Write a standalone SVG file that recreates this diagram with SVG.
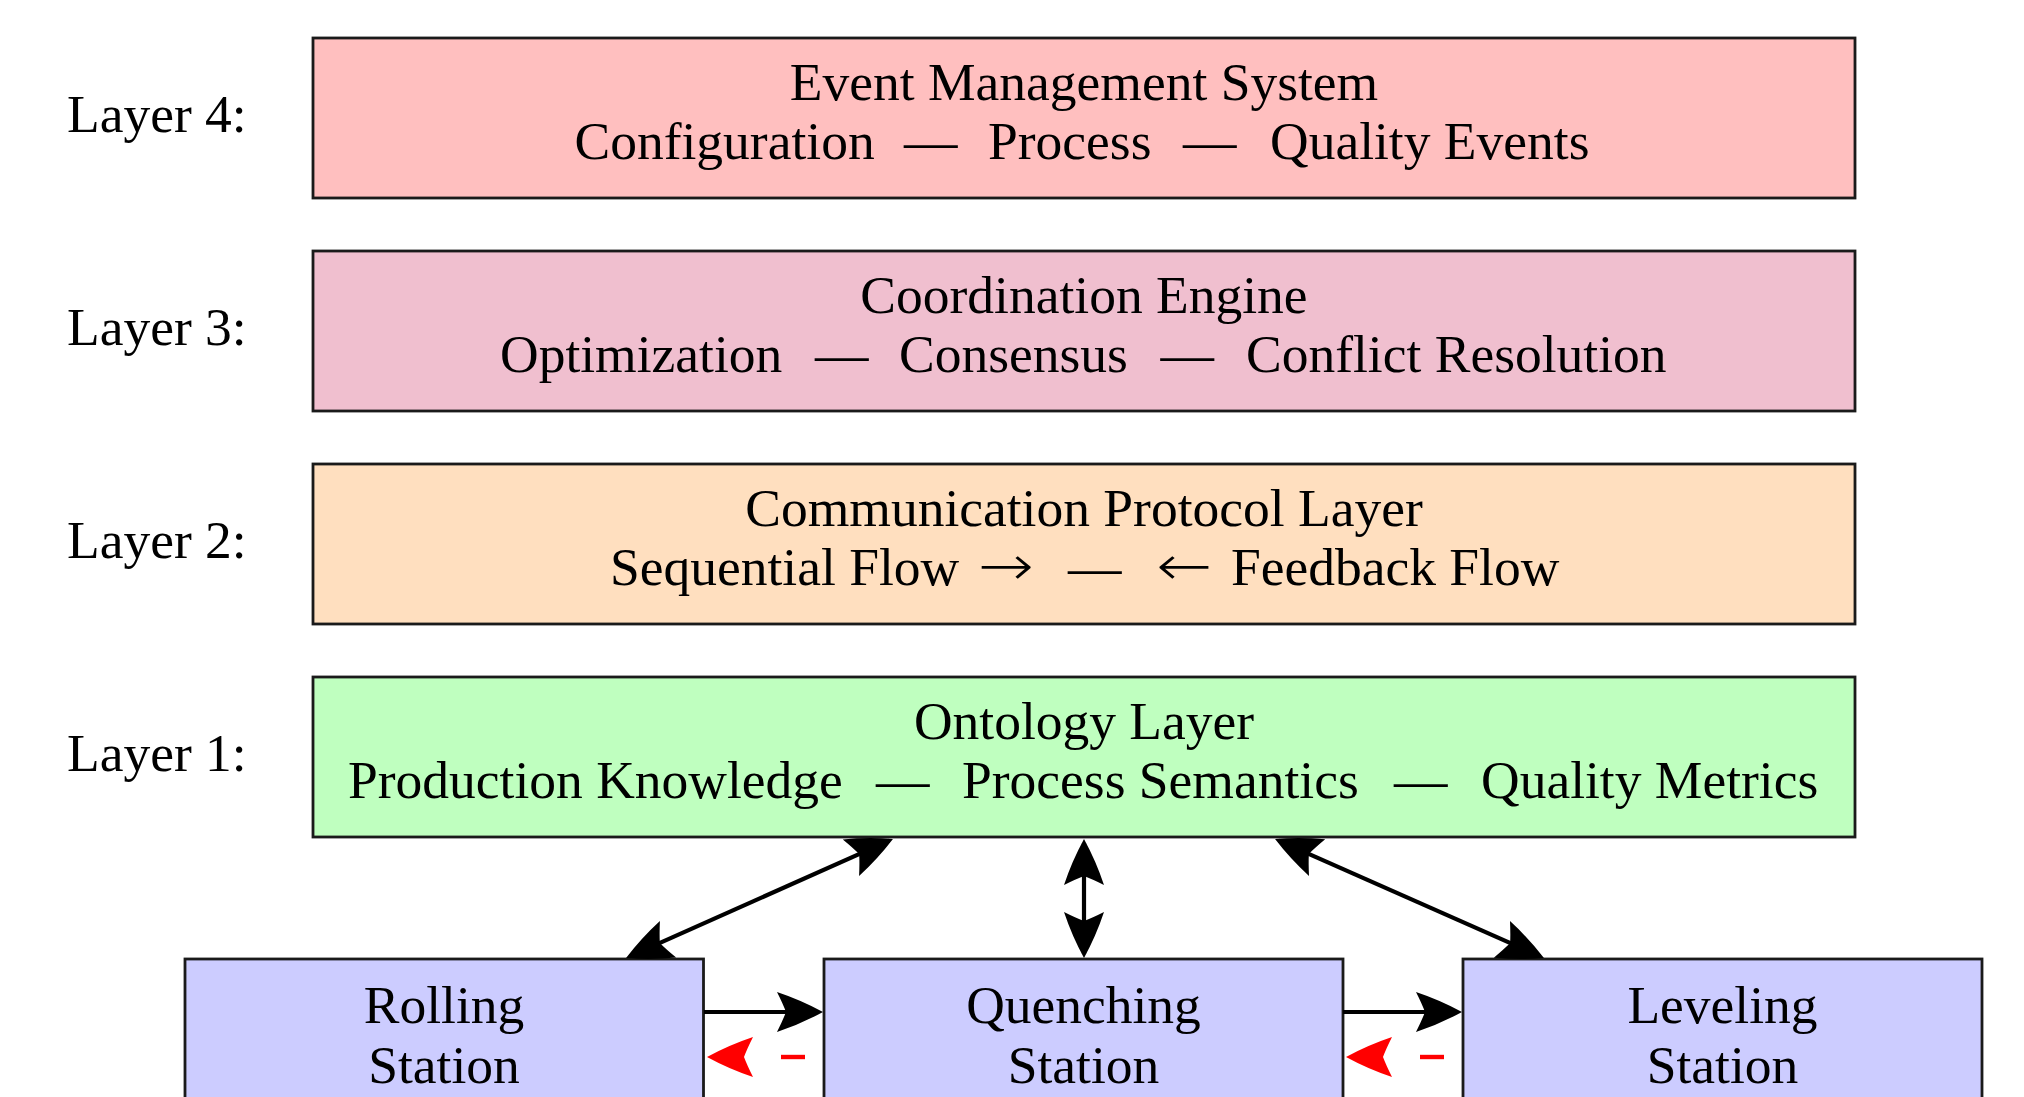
<svg xmlns="http://www.w3.org/2000/svg" width="2024" height="1097" viewBox="0 0 2024 1097">
  <style>
    .t { font-family: "Liberation Serif", "DejaVu Serif", serif; font-size: 53.5px; fill: #000; }
    .c { text-anchor: middle; }
    .ar { font-family: "DejaVu Sans", sans-serif; font-size: 56px; font-weight: 200; }
    .box { stroke: #1a1a1a; stroke-width: 2.8; }
    .l4 { fill: #FFBFBF; }
    .l3 { fill: #F0BFCF; }
    .l2 { fill: #FFDFBF; }
    .l1 { fill: #BFFFBF; }
    .st { fill: #CCCCFF; }
    .conn { stroke: #000; stroke-width: 4.2; fill: none; }
    .fb { stroke: #FF0000; stroke-width: 4.4; fill: none; stroke-dasharray: 24 200; }
  </style>
  <defs>
    <marker id="ah" viewBox="-52 -24 58 48" refX="-4" refY="0" markerWidth="58" markerHeight="48" markerUnits="userSpaceOnUse" orient="auto-start-reverse">
      <path d="M0,0 Q-22,-12 -46,-20 Q-40,-8 -37,0 Q-40,8 -46,20 Q-22,12 0,0 Z" fill="#000"/>
    </marker>
    <marker id="ahr" viewBox="-52 -24 58 48" refX="-4" refY="0" markerWidth="58" markerHeight="48" markerUnits="userSpaceOnUse" orient="auto-start-reverse">
      <path d="M0,0 Q-22,-12 -46,-20 Q-40,-8 -37,0 Q-40,8 -46,20 Q-22,12 0,0 Z" fill="#FF0000"/>
    </marker>
  </defs>
  <rect width="2024" height="1097" fill="#fff"/>

  <g id="layer4">
    <text class="t" x="67" y="132">Layer 4:</text>
    <rect class="box l4" x="313" y="38" width="1542" height="160"/>
    <text class="t c" x="1084" y="100">Event Management System</text>
    <text class="t" y="159"><tspan x="574.5">Configuration</tspan><tspan x="904">—</tspan><tspan x="988">Process</tspan><tspan x="1183">—</tspan><tspan x="1270">Quality Events</tspan></text>
  </g>

  <g id="layer3">
    <text class="t" x="67" y="345">Layer 3:</text>
    <rect class="box l3" x="313" y="251" width="1542" height="160"/>
    <text class="t c" x="1084" y="313">Coordination Engine</text>
    <text class="t" y="372"><tspan x="500">Optimization</tspan><tspan x="815">—</tspan><tspan x="899">Consensus</tspan><tspan x="1160.5">—</tspan><tspan x="1246">Conflict Resolution</tspan></text>
  </g>

  <g id="layer2">
    <text class="t" x="67" y="558">Layer 2:</text>
    <rect class="box l2" x="313" y="464" width="1542" height="160"/>
    <text class="t c" x="1084" y="526">Communication Protocol Layer</text>
    <text class="t" y="585"><tspan x="610">Sequential Flow</tspan><tspan class="ar" x="978" textLength="56" lengthAdjust="spacingAndGlyphs">→</tspan><tspan x="1068">—</tspan><tspan class="ar" x="1156" textLength="56" lengthAdjust="spacingAndGlyphs">←</tspan><tspan x="1231">Feedback Flow</tspan></text>
  </g>

  <g id="layer1">
    <text class="t" x="67" y="771">Layer 1:</text>
    <rect class="box l1" x="313" y="677" width="1542" height="160"/>
    <text class="t c" x="1084" y="739">Ontology Layer</text>
    <text class="t" y="798"><tspan x="348">Production Knowledge</tspan><tspan x="876">—</tspan><tspan x="962">Process Semantics</tspan><tspan x="1394">—</tspan><tspan x="1481">Quality Metrics</tspan></text>
  </g>

  <g id="rolling">
    <rect class="box st" x="185" y="959" width="518.5" height="170"/>
    <text class="t c" x="444" y="1022.5">Rolling</text>
    <text class="t c" x="444" y="1082.5">Station</text>
  </g>

  <g id="quenching">
    <rect class="box st" x="824" y="959" width="519" height="170"/>
    <text class="t c" x="1083.5" y="1022.5">Quenching</text>
    <text class="t c" x="1083.5" y="1082.5">Station</text>
  </g>

  <g id="leveling">
    <rect class="box st" x="1463" y="959" width="519" height="170"/>
    <text class="t c" x="1722.5" y="1022.5">Leveling</text>
    <text class="t c" x="1722.5" y="1082.5">Station</text>
  </g>

  <g id="connectors">
    <line class="conn" x1="889.3" y1="840.6" x2="629.7" y2="956.4" marker-start="url(#ah)" marker-end="url(#ah)"/>
    <line class="conn" x1="1084" y1="843" x2="1084" y2="954" marker-start="url(#ah)" marker-end="url(#ah)"/>
    <line class="conn" x1="1278.7" y1="840.6" x2="1540.3" y2="956.4" marker-start="url(#ah)" marker-end="url(#ah)"/>
    <line class="conn" x1="704" y1="1012" x2="819" y2="1012" marker-end="url(#ah)"/>
    <line class="conn" x1="1343" y1="1012" x2="1458" y2="1012" marker-end="url(#ah)"/>
    <line class="fb" x1="805" y1="1057" x2="711" y2="1057" marker-end="url(#ahr)"/>
    <line class="fb" x1="1444" y1="1057" x2="1350" y2="1057" marker-end="url(#ahr)"/>
  </g>
</svg>
